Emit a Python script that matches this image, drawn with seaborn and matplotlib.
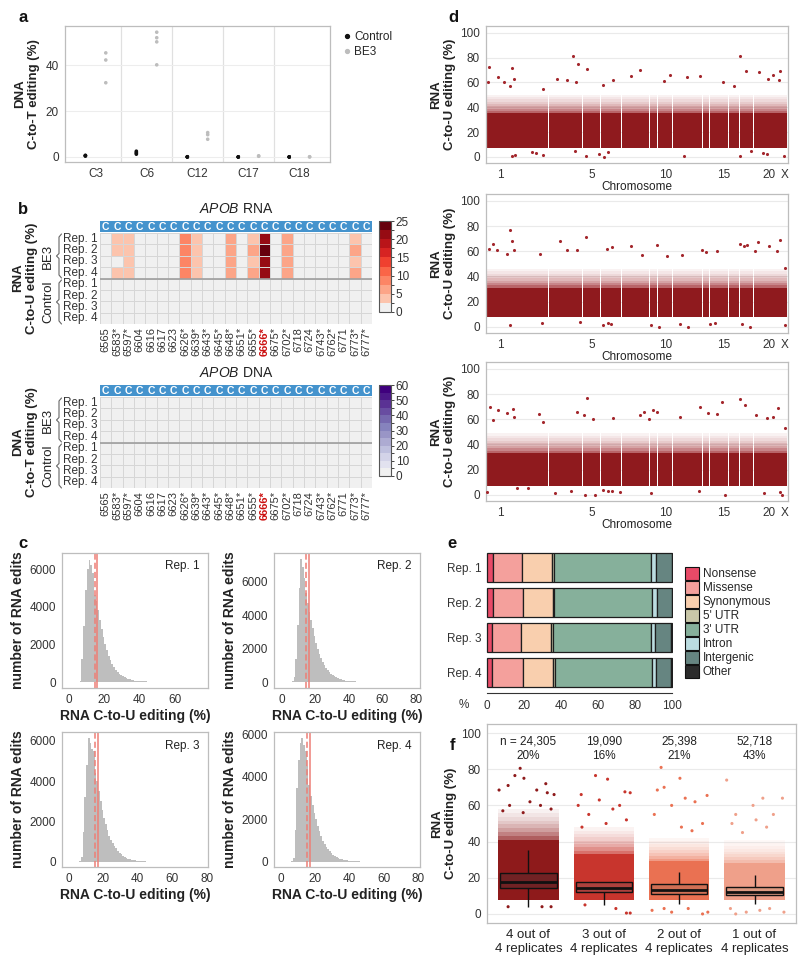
import numpy as np
import pandas as pd
import matplotlib
matplotlib.use("Agg")
import matplotlib.pyplot as plt
from matplotlib.colors import ListedColormap, BoundaryNorm
from matplotlib.lines import Line2D
from matplotlib.patches import Patch
import seaborn as sns

# ---------------- data ----------------
# a: targeted DNA editing at APOB sites
sites_a = ['C3', 'C6', 'C12', 'C17', 'C18']
ctrl_a = {'C3': [0.4, 0.5, 0.6, 0.7], 'C6': [1.2, 1.6, 2.0, 2.5], 'C12': [0.0, 0.0, 0.1, 0.0],
          'C17': [0.0, 0.0, 0.0, 0.0], 'C18': [0.0, 0.0, 0.0, 0.0]}
be3_a = {'C3': [32.3, 42.2, 45.3], 'C6': [40.1, 50.1, 51.9, 54.3], 'C12': [7.7, 9.7, 10.6],
         'C17': [0.5, 0.3], 'C18': [0.1, 0.0]}

# b: APOB heatmaps
positions = ['6565', '6583*', '6597*', '6604', '6616', '6617', '6623', '6626*', '6639*', '6643*',
             '6645*', '6648*', '6651*', '6655*', '6666*', '6675*', '6702*', '6718', '6724', '6743*',
             '6762*', '6771', '6773*', '6777*']
rep_labels = ['Rep. 1', 'Rep. 2', 'Rep. 3', 'Rep. 4']
rna_be3 = {
    '6583*': [4.0, 4.0, 0.5, 4.0],
    '6597*': [3.5, 3.5, 3.5, 3.5],
    '6626*': [8.0, 8.0, 8.0, 8.5],
    '6639*': [4.0, 4.0, 4.0, 4.0],
    '6648*': [6.5, 6.5, 6.0, 6.0],
    '6655*': [4.5, 6.5, 4.0, 6.5],
    '6666*': [21.0, 24.5, 21.0, 21.0],
    '6702*': [6.5, 6.0, 6.0, 6.0],
    '6773*': [4.5, 6.5, 4.0, 6.5],
}
rna_ctrl = {}
dna_be3 = {}
dna_ctrl = {}

# c: histograms of editing (%), 1%-wide bins from 0 to 75
tail = [21, 20, 19, 18, 17, 16, 15, 15, 14, 14, 13, 13, 12, 12, 12, 11, 11, 11, 11, 10,
        10, 10, 10, 10, 10, 10, 10, 10, 10]
hist_rep1 = [10, 10, 10, 10, 10, 10, 60, 1200, 3000, 4900, 6000, 6500, 6200, 5800, 4600, 4300,
             3800, 3300, 2800, 2400, 2000, 1700, 1400, 1150, 950, 780, 650, 540, 450, 370, 300,
             250, 200, 165, 135, 110, 90, 75, 62, 52, 44, 38, 33, 29, 26, 23] + tail
hist_rep2 = [10, 10, 10, 10, 10, 10, 60, 300, 1400, 3400, 5600, 7350, 6900, 6200, 5300, 4700,
             4200, 3700, 3200, 2750, 2350, 2000, 1700, 1450, 1200, 1000, 850, 700, 580, 480, 400,
             330, 270, 220, 180, 150, 125, 100, 85, 70, 58, 48, 40, 34, 29, 25] + tail
hist_rep3 = [10, 10, 10, 10, 10, 10, 40, 250, 1500, 3200, 4800, 6150, 5900, 5600, 5500, 4400,
             4000, 3500, 3000, 2600, 2200, 1900, 1600, 1300, 1100, 950, 800, 680, 560, 460, 380,
             310, 250, 205, 165, 135, 110, 90, 75, 62, 52, 44, 37, 32, 27, 24] + tail
hist_rep4 = [10, 10, 10, 10, 10, 10, 40, 200, 1500, 3500, 4800, 5600, 5820, 5500, 5200, 4500,
             3600, 3100, 2700, 2300, 2000, 1700, 1450, 1200, 1000, 850, 720, 600, 500, 410, 340,
             280, 230, 190, 155, 128, 105, 88, 73, 61, 51, 43, 37, 32, 27, 24] + tail
hist_median = [14.7, 14.2, 15.0, 15.0]
hist_mean = [16.0, 16.0, 16.8, 17.0]

# d: genome-wide RNA editing per chromosome
chrom_names = ['1', '2', '3', '4', '5', '6', '7', '8', '9', '10', '11', '12', '13', '14', '15',
               '16', '17', '18', '19', '20', '21', '22', 'X']
chrom_sites = [81, 104, 61, 40, 55, 62, 38, 45, 25, 45, 34, 55, 21, 29, 28, 33, 42, 20, 18, 15,
               15, 15, 18]
d_band_lo = [7, 8, 7]
d_band_hi = [35, 31, 33]
d_fringe_hi = [50, 46, 49]
d1_pos = [6, 73, 31, 81, 258, 273, 298, 208, 238, 266, 378, 348, 456, 431, 528, 548, 598, 636,
          705, 758, 776, 813, 841, 876, 855, 738, 68, 3, 51, 168, 873,
          73, 83, 133, 146, 168, 263, 296, 336, 350, 363, 588, 758, 791, 826, 838, 888]
d1_val = [72.5, 71.5, 64, 63, 81.5, 75, 70.5, 63, 62, 60, 62, 58, 70, 65, 61, 66, 64, 65,
          60, 81, 69, 68, 63, 69, 66, 57, 57, 60, 60, 55, 62,
          1, 1.5, 4, 3, 1.5, 5, 1, 2, 0, 4, 1, 1, 5, 3, 2, 1]
d2_pos = [6, 16, 28, 68, 75, 58, 81, 158, 218, 238, 268, 295, 358, 373, 431, 463, 508, 538, 583,
          643, 656, 688, 758, 768, 778, 810, 803, 843, 876, 868, 893,
          68, 163, 278, 346, 363, 370, 490, 513, 578, 600, 668, 683, 763, 788, 893]
d2_val = [62, 66, 61, 77, 68, 58, 61, 58, 68, 61, 61, 71, 62, 63, 64, 57, 65, 56, 57,
          61, 59, 60, 66, 64, 65, 67, 60, 64, 69, 60, 47,
          1.5, 3, 4, 1.5, 3, 2, 1, 0, 2, 0, 2, 3, 2, 0, 1]
d3_pos = [8, 31, 16, 60, 76, 81, 156, 168, 268, 298, 290, 318, 378, 456, 470, 483, 496, 508, 576,
          638, 660, 703, 688, 756, 773, 806, 838, 856, 871, 893,
          0, 88, 123, 203, 251, 293, 323, 348, 363, 373, 398, 490, 633, 713, 828, 878, 883]
d3_val = [70, 67, 59, 65, 68, 62, 64, 58, 66, 77, 63, 60, 61, 63, 66, 60, 67, 66, 62,
          70, 65, 74, 64, 76, 71, 63, 61, 62, 69, 53,
          2, 5, 5, 1, 3, 0, 0, 4, 3, 3, 2, 1, 3, 0, 1, 2, 0]

# e: functional classes of edits (%)
reps_e = ['Rep. 1', 'Rep. 2', 'Rep. 3', 'Rep. 4']
class_names = ['Nonsense', 'Missense', 'Synonymous', "5' UTR", "3' UTR", 'Intron', 'Intergenic', 'Other']
nonsense = [3.5, 3.5, 3.0, 3.0]
missense = [15.5, 16.0, 15.5, 16.5]
synonymous = [16.0, 16.0, 16.0, 16.0]
utr5 = [1.5, 1.0, 1.0, 1.5]
utr3 = [52.0, 52.5, 53.0, 52.0]
intron = [2.5, 2.5, 2.0, 2.0]
intergenic = [8.5, 8.0, 8.8, 8.3]
other = [0.5, 0.5, 0.7, 0.7]
class_colors = ['#E84A67', '#F4A09C', '#F9CFAE', '#C9C7A8', '#86B09B', '#BBDCE0', '#668581', '#2B2B2B']

# f: editing by replicate overlap
groups_f = ['4 out of\n4 replicates', '3 out of\n4 replicates', '2 out of\n4 replicates',
            '1 out of\n4 replicates']
n_f = ['n = 24,305\n20%', '19,090\n16%', '25,398\n21%', '52,718\n43%']
box_lo = [4.0, 5.0, 5.5, 5.5]
box_q1 = [14.2, 12.0, 11.1, 10.3]
box_med = [17.9, 14.6, 13.1, 12.4]
box_q3 = [22.9, 17.9, 16.4, 14.8]
box_hi = [35.4, 26.8, 23.4, 21.5]
f_band_lo = [7.5, 7.5, 7.5, 7.5]
f_band_hi = [41, 33, 29, 28]
f_fringe_hi = [58, 48, 42, 41]
f_out_grp = [0] * 18 + [1] * 17 + [2] * 18 + [3] * 16
f_out_off = [-0.11, -0.18, -0.06, -0.27, 0.23, 0.11, -0.39, 0.34, 0.25, 0.02, 0.16, -0.25, 0.3,
             -0.34, -0.07, -0.27, 0.18, 0.3,
             -0.11, 0.05, -0.3, 0.28, 0.35, -0.34, 0.21, 0.12, -0.06, -0.2, 0.3, 0.03, -0.29,
             0.3, 0.35, -0.25, 0.16,
             -0.24, 0.01, -0.2, -0.29, 0.37, 0.08, -0.1, 0.21, -0.33, 0.31, 0.03, 0.17,
             -0.36, -0.2, -0.1, 0.12, 0.31, 0.38,
             -0.37, 0.11, -0.02, 0.37, -0.25, 0.25, -0.3, 0.02, 0.16, -0.16,
             -0.32, -0.11, 0.07, 0.2, 0.39, -0.25]
f_out_val = [80.5, 76.5, 75, 71, 72, 68.5, 68.5, 66, 67, 62, 60, 60, 58, 57, 56, 4, 4, 4,
             76.5, 74.5, 66, 67.5, 67, 60, 60, 58, 63, 55, 52, 50, 48, 0.5, 0.5, 5, 3,
             81, 75, 70, 68.5, 65.5, 64, 60, 62, 55, 50, 48, 46, 2, 3, 1, 3, 0, 1,
             74, 64, 60, 64, 55, 55, 50, 52, 48, 45, 3, 1, 2, 3, 1, 0]
f_band_colors = ['#8E1A1B', '#C8352D', '#EA7152', '#EFA08A']
f_box_colors = ['#7E1517', '#C0302A', '#E5633F', '#EC9473']

# ---------------- style ----------------
sns.set_style("white")
plt.rcParams['font.family'] = ['Liberation Sans', 'DejaVu Sans']
plt.rcParams['mathtext.fontset'] = 'custom'
plt.rcParams['mathtext.it'] = 'Liberation Sans:italic'
plt.rcParams['mathtext.rm'] = 'Liberation Sans'
plt.rcParams['font.size'] = 8.5

W, H = 800, 965
fig = plt.figure(figsize=(W / 100, H / 100), dpi=100)
fig.patch.set_facecolor('white')


def add_ax(x0, y0, x1, y1):
    return fig.add_axes([x0 / W, 1 - y1 / H, (x1 - x0) / W, (y1 - y0) / H])


def ftext(x, y, s, **kw):
    fig.text(x / W, 1 - y / H, s, **kw)


def brace(x, y0, y1):
    # thin curly bracket drawn in figure pixels
    ym = (y0 + y1) / 2
    px = [x + 2.5, x, x, x - 2.5, x, x, x + 2.5]
    py = [y0, y0 + 3, ym - 2.5, ym, ym + 2.5, y1 - 3, y1]
    fig.add_artist(Line2D([p / W for p in px], [1 - p / H for p in py], color='#666666', lw=0.8,
                          transform=fig.transFigure))


def frame(ax, color='#BDBDBD'):
    for sp in ax.spines.values():
        sp.set_visible(True)
        sp.set_color(color)
        sp.set_linewidth(0.9)
    ax.tick_params(axis='both', color='#7F7F7F', labelcolor='#333333', length=2.5, width=0.7,
                   labelsize=8.5, pad=2)


FADE = (0.7, 0.55, 0.42, 0.32, 0.24, 0.17, 0.11, 0.06)


def faded_band(ax, x, lo, hi, width, color, align='center', alphas=FADE):
    # speckled upper fringe of a dense point cloud, shown as fading layers
    lo = np.asarray(lo, dtype=float)
    step = (np.asarray(hi, dtype=float) - lo) / len(alphas)
    for j, a in enumerate(alphas):
        ax.bar(x, step, bottom=lo + j * step, width=width, align=align, color=color, alpha=a,
               linewidth=0, zorder=1)


TXT = '#222222'

# ---------------- panel a ----------------
rows = []
for s in sites_a:
    rows += [(s, 'Control', v) for v in ctrl_a[s]]
    rows += [(s, 'BE3', v) for v in be3_a[s]]
df_a = pd.DataFrame(rows, columns=['site', 'group', 'val'])

ax_a = add_ax(65, 26, 330, 162)
sns.stripplot(data=df_a, x='site', y='val', hue='group', order=sites_a, hue_order=['Control', 'BE3'],
              palette={'Control': '#111111', 'BE3': '#BDBDBD'}, dodge=True, jitter=False, size=2.6,
              ax=ax_a, legend=False, zorder=3)
ax_a.set_xlim(-0.6, 4.6)
ax_a.set_ylim(-2.2, 57)
for xv in [0.5, 1.5, 2.5, 3.5]:
    ax_a.axvline(xv, color='#E0E0E0', lw=0.9, zorder=0)
ax_a.set_yticks([0, 20, 40])
ax_a.grid(axis='y', color='#EDEDED', lw=0.8)
ax_a.set_axisbelow(True)
frame(ax_a)
ax_a.set_xlabel('')
ax_a.set_ylabel('DNA\nC-to-T editing (%)', fontweight='bold', fontsize=9.5, color=TXT, labelpad=4)
handles = [Line2D([], [], marker='o', ls='', color='#111111', markersize=2.8),
           Line2D([], [], marker='o', ls='', color='#BDBDBD', markersize=2.8)]
ax_a.legend(handles, ['Control', 'BE3'], loc='upper left', bbox_to_anchor=(1.03, 1.0), frameon=False,
            fontsize=8.5, handletextpad=0.2, handlelength=0.8, borderaxespad=0, labelspacing=0.25)

# ---------------- panel b ----------------
def build_matrix(be3, ctrl):
    m = np.zeros((8, len(positions)))
    for j, p in enumerate(positions):
        if p in be3:
            m[:4, j] = be3[p]
        if p in ctrl:
            m[4:, j] = ctrl[p]
    return m


def heat_panel(top, values, colors, bounds, cticks, title):
    # top = y pixel of the blue C row
    ax_c = add_ax(100, top, 372, top + 11)
    sns.heatmap(np.zeros((1, len(positions))), ax=ax_c, cmap=ListedColormap(['#4493CD']), cbar=False,
                annot=np.full((1, len(positions)), 'C'), fmt='',
                annot_kws={'color': 'white', 'fontsize': 7.5, 'fontweight': 'bold'},
                xticklabels=False, yticklabels=False)
    ax_h = add_ax(100, top + 12, 372, top + 103)
    ax_cb = add_ax(379, top, 391, top + 91)
    sns.heatmap(values, ax=ax_h, cmap=ListedColormap(colors), norm=BoundaryNorm(bounds, len(colors)),
                cbar_ax=ax_cb, linewidths=0.7, linecolor='#D6D6D6',
                xticklabels=positions, yticklabels=rep_labels * 2)
    ax_h.axhline(4, color='#9E9E9E', lw=1.2)
    ax_h.tick_params(length=0, pad=2, labelcolor='#333333')
    ax_h.set_xticklabels(positions, rotation=90, fontsize=8)
    ax_h.set_yticklabels(rep_labels * 2, rotation=0, fontsize=8.5)
    for lab in ax_h.get_xticklabels():
        if lab.get_text() == '6666*':
            lab.set_color('#CC1111')
            lab.set_fontweight('bold')
    cb = ax_h.collections[0].colorbar
    cb.set_ticks(cticks)
    cb.ax.tick_params(labelsize=8.5, length=2, width=0.6, pad=1.5, labelcolor='#333333')
    cb.outline.set_edgecolor('#555555')
    cb.outline.set_linewidth(0.8)
    ftext(236, top - 12, title, fontsize=10, ha='center', va='center', color=TXT)
    # group labels and braces
    ftext(48, top + 35, 'BE3', rotation=90, ha='center', va='center', fontsize=9.5, color=TXT)
    ftext(48, top + 81, 'Control', rotation=90, ha='center', va='center', fontsize=9.5, color=TXT)
    brace(59, top + 13, top + 57)
    brace(59, top + 59, top + 103)
    return ax_h


rna_colors = ['#F0F0F0'] + [plt.get_cmap('Reds')(v) for v in np.linspace(0.22, 1.0, 9)]
dna_colors = ['#F0F0F0'] + [plt.get_cmap('Purples')(v) for v in np.linspace(0.2, 1.0, 11)]
heat_panel(221, build_matrix(rna_be3, rna_ctrl), rna_colors, np.arange(0, 25.01, 2.5),
           [0, 5, 10, 15, 20, 25], r'$\it{APOB}$ RNA')
ftext(25, 278, 'RNA\nC-to-U editing (%)', rotation=90, ha='center', va='center', fontsize=9.5,
      fontweight='bold', color=TXT)
heat_panel(385, build_matrix(dna_be3, dna_ctrl), dna_colors, np.arange(0, 60.01, 5),
           [0, 10, 20, 30, 40, 50, 60], r'$\it{APOB}$ DNA')
ftext(25, 442, 'DNA\nC-to-T editing (%)', rotation=90, ha='center', va='center', fontsize=9.5,
      fontweight='bold', color=TXT)

# ---------------- panel c ----------------
bin_mid = np.arange(0, 75) + 0.5


def hist_panel(box, counts, xlim, ylim, xticks, yticks, med, mean, label):
    ax = add_ax(*box)
    df_h = pd.DataFrame({'pct': bin_mid, 'n': counts})
    sns.histplot(data=df_h, x='pct', weights='n', binwidth=1, binrange=(0, 75), element='step',
                 fill=True, color='#BEBEBE', alpha=1, linewidth=0, ax=ax)
    ax.axvline(med, color='#EE7F76', lw=1.1, ls=(0, (4, 2)))
    ax.axvline(mean, color='#EE7F76', lw=1.1)
    ax.set_xlim(*xlim)
    ax.set_ylim(*ylim)
    ax.set_xticks(xticks)
    ax.set_yticks(yticks)
    frame(ax)
    ax.set_xlabel('RNA C-to-U editing (%)', fontweight='bold', fontsize=10, color=TXT, labelpad=2)
    ax.set_ylabel('number of RNA edits', fontweight='bold', fontsize=10, color=TXT, labelpad=3)
    ax.text(0.94, 0.9, label, transform=ax.transAxes, ha='right', va='center', fontsize=8.5, color=TXT)
    return ax


yt = [0, 2000, 4000, 6000]
hist_panel((62, 553, 208, 688), hist_rep1, (-4, 78.6), (-318, 6850), [0, 20, 40, 60], yt,
           hist_median[0], hist_mean[0], 'Rep. 1')
hist_panel((274, 553, 420, 688), hist_rep2, (-4.8, 82.6), (-358, 7710), [0, 20, 40, 60, 80], yt,
           hist_median[1], hist_mean[1], 'Rep. 2')
hist_panel((62, 732, 208, 867), hist_rep3, (-4, 80.8), (-248, 6446), [0, 20, 40, 60, 80], yt,
           hist_median[2], hist_mean[2], 'Rep. 3')
hist_panel((274, 732, 420, 867), hist_rep4, (-4, 81), (-235, 6110), [0, 20, 40, 60, 80], yt,
           hist_median[3], hist_mean[3], 'Rep. 4')

# ---------------- panel d ----------------
chrom_sites_arr = np.array(chrom_sites, dtype=float)
chrom_start = np.concatenate([[0], np.cumsum(chrom_sites_arr)[:-1]])
tick_idx = [0, 4, 9, 14, 19, 22]
d_pos = [d1_pos, d2_pos, d3_pos]
d_val = [d1_val, d2_val, d3_val]
d_boxes = [(486, 26, 788, 163), (486, 194, 788, 333), (486, 362, 788, 501)]
for k in range(3):
    ax = add_ax(*d_boxes[k])
    ax.bar(chrom_start, d_band_hi[k] - d_band_lo[k], bottom=d_band_lo[k], width=chrom_sites_arr - 2.0,
           align='edge', color='#8F1A1E', linewidth=0, zorder=2)
    faded_band(ax, chrom_start, d_band_hi[k], d_fringe_hi[k], chrom_sites_arr - 2.0, '#9C2228',
               align='edge')
    sns.scatterplot(x=d_pos[k], y=d_val[k], color='#A3262C', s=5, linewidth=0, ax=ax, zorder=3)
    ax.set_xlim(-4, 901)
    ax.set_ylim(-5, 105.5)
    ax.set_yticks([0, 20, 40, 60, 80, 100])
    ax.set_xticks(chrom_start[tick_idx] + chrom_sites_arr[tick_idx] / 2)
    ax.set_xticklabels([chrom_names[i] for i in tick_idx])
    ax.grid(axis='y', color='#EAEAEA', lw=0.8)
    ax.set_axisbelow(True)
    frame(ax)
    ax.set_xlabel('Chromosome', fontsize=8.5, color=TXT, labelpad=0)
    ax.set_ylabel('RNA\nC-to-U editing (%)', fontweight='bold', fontsize=9.5, color=TXT, labelpad=3)

# ---------------- panel e ----------------
ax_e = add_ax(486, 550, 673, 693)
class_vals = [nonsense, missense, synonymous, utr5, utr3, intron, intergenic, other]
left = np.zeros(len(reps_e))
for name, vals, col in zip(class_names, class_vals, class_colors):
    ax_e.barh(np.arange(len(reps_e)), vals, left=left, height=0.83, color=col, edgecolor='#1E1E1E',
              linewidth=0.9, label=name)
    left = left + np.array(vals)
ax_e.set_ylim(3.6, -0.5)
ax_e.set_xlim(-0.3, 100.3)
ax_e.set_yticks(np.arange(len(reps_e)))
ax_e.set_yticklabels(reps_e)
ax_e.set_xticks([0, 20, 40, 60, 80, 100])
for sp in ['top', 'right', 'left']:
    ax_e.spines[sp].set_visible(False)
ax_e.spines['bottom'].set_color('#333333')
ax_e.spines['bottom'].set_linewidth(0.8)
ax_e.spines['bottom'].set_bounds(0, 100)
ax_e.tick_params(axis='x', color='#333333', labelcolor='#333333', length=3, width=0.7, labelsize=8.5, pad=2)
ax_e.tick_params(axis='y', length=0, labelsize=8.5, labelcolor='#333333', pad=3)
ftext(464, 705, '%', ha='center', va='center', fontsize=8.5, color='#333333')
leg_handles = [Patch(facecolor=c, edgecolor='#111111', linewidth=0.8) for c in class_colors]
fig.legend(leg_handles, class_names, loc='upper left', bbox_to_anchor=(685 / W, 1 - 567 / H),
           frameon=False, fontsize=8.5, handlelength=1.2, handleheight=1.3, labelspacing=0.05,
           handletextpad=0.3, borderaxespad=0, borderpad=0)

# ---------------- panel f ----------------
ax_f = add_ax(487, 724, 796, 923)
box_rows = []
for i, g in enumerate(groups_f):
    for v in [box_lo[i], box_q1[i], box_med[i], box_q3[i], box_hi[i]]:
        box_rows.append((g, v))
df_box = pd.DataFrame(box_rows, columns=['grp', 'val'])
sns.boxplot(data=df_box, x='grp', y='val', hue='grp', order=groups_f, hue_order=groups_f,
            palette=dict(zip(groups_f, f_box_colors)), width=0.75, showfliers=False, showcaps=False,
            linecolor='#111111', linewidth=1.0, legend=False, ax=ax_f,
            boxprops={'zorder': 3}, whiskerprops={'zorder': 3},
            medianprops={'zorder': 4, 'linewidth': 2.0})
xs = np.arange(len(groups_f))
ax_f.bar(xs, np.array(f_band_hi) - np.array(f_band_lo), bottom=f_band_lo, width=0.8,
         color=f_band_colors, linewidth=0, zorder=1)
for i in xs:
    faded_band(ax_f, [i], [f_band_hi[i]], [f_fringe_hi[i]], 0.8, f_band_colors[i])
out_x = np.array(f_out_grp) + np.array(f_out_off)
sns.scatterplot(x=out_x, y=f_out_val, hue=[groups_f[g] for g in f_out_grp],
                palette=dict(zip(groups_f, f_band_colors)), s=5, linewidth=0, legend=False, ax=ax_f,
                zorder=2)
for i, s in enumerate(n_f):
    ax_f.text(i, 91.5, s, ha='center', va='center', fontsize=8.5, color=TXT, linespacing=1.25)
ax_f.set_xlim(-0.55, 3.55)
ax_f.set_ylim(-5, 105)
ax_f.set_yticks([0, 20, 40, 60, 80, 100])
ax_f.set_xticks(xs)
ax_f.set_xticklabels(groups_f)
ax_f.grid(axis='y', color='#EAEAEA', lw=0.8)
ax_f.set_axisbelow(True)
frame(ax_f)
ax_f.tick_params(axis='x', labelsize=9.5, labelcolor=TXT)
ax_f.set_xlabel('')
ax_f.set_ylabel('RNA\nC-to-U editing (%)', fontweight='bold', fontsize=9.5, color=TXT, labelpad=3)

# ---------------- panel letters ----------------
for lab, x, y in [('a', 23, 18), ('b', 23, 210), ('c', 23, 544), ('d', 453, 17), ('e', 452, 543),
                  ('f', 453, 746)]:
    ftext(x, y, lab, fontsize=12, fontweight='bold', ha='center', va='center', color='#111111')

fig.savefig('out.png', dpi=100)
